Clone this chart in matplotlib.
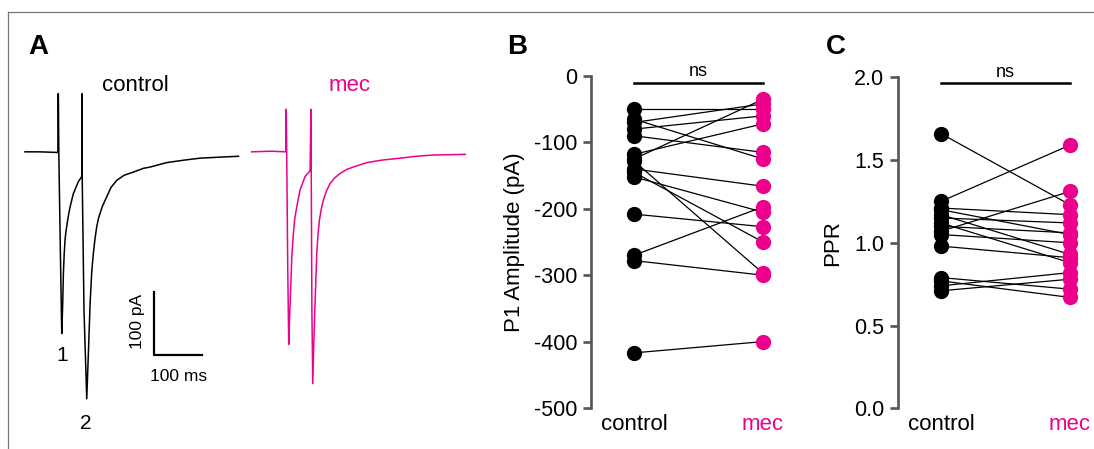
import matplotlib
matplotlib.use('Agg')
from matplotlib import pyplot as plt
from matplotlib.lines import Line2D

plt.rcParams['font.family'] = ['Liberation Sans', 'DejaVu Sans']
plt.rcParams['axes.unicode_minus'] = False

MAGENTA = '#EC008C'
GREY = '#555555'

# Panel A: example traces (time in ms, current in pA)
ctrl_t = [0, 30, 68, 68.6, 69, 70, 73, 76, 78, 79.4, 81, 82.8, 84.5, 86.3, 89, 93.2, 100,
          110.4, 117.4, 117.8, 118, 118.4, 122, 127.7, 131, 134.6, 138, 141.4, 145, 148.4,
          152, 155.3, 160, 169, 178, 189.8, 205, 224, 245, 259, 293, 330, 362, 400, 441.6]
ctrl_i = [0, 0, -1, 92, 92, -5, -150, -287, -240, -192, -162, -139, -127, -118, -104, -87, -66,
          -47, -39, 92, 92, -45, -250, -390, -320, -240, -190, -160, -136, -118,
          -105, -97, -86, -71, -56, -45, -37, -32, -26, -24, -17, -13, -10, -8.5, -7]

mec_t = [0, 40, 70.6, 71, 71.4, 72.5, 74.5, 76.6, 78.5, 80.7, 83, 86.2, 89, 93.1, 100, 110.4,
         120.7, 122.6, 122.8, 123.2, 124.5, 126.3, 128.5, 131, 134.6, 137, 140, 144, 148.3,
         155, 162, 172, 183, 196, 210, 238, 270, 307, 340, 376, 441.6]
mec_i = [0, 1, 0, 67, 67, -10, -180, -304, -260, -213, -165, -129, -106, -87, -60, -39,
         -30, 67, 67, -40, -250, -366, -300, -240, -160, -132, -108, -90, -76,
         -61, -50, -41, -34, -28, -24, -17, -13, -10, -7, -5, -4]

# Panel B: P1 amplitude (pA), paired control -> mec
p1_control = [-49, -65, -70, -80, -90, -118, -125, -128, -140, -145, -152, -208, -270, -278, -417]
p1_mec = [-49, -125, -42, -60, -115, -72, -35, -297, -166, -250, -205, -227, -197, -300, -400]

# Panel C: paired-pulse ratio
ppr_control = [1.66, 1.25, 1.21, 1.20, 1.17, 1.15, 1.12, 1.10, 1.07, 1.05, 0.98, 0.79, 0.77, 0.74, 0.71]
ppr_mec = [1.23, 1.59, 1.17, 1.05, 0.93, 1.12, 0.88, 1.06, 1.31, 1.00, 0.91, 0.72, 0.67, 0.82, 0.78]

groups = ['control', 'mec']

W, H = 1094, 449
fig = plt.figure(figsize=(W / 100, H / 100), dpi=100)


def px_axes(x0, y0, x1, y1):
    return fig.add_axes([x0 / W, 1 - y1 / H, (x1 - x0) / W, (y1 - y0) / H])


# frame around the figure (top and left edge only visible)
fig.add_artist(Line2D([8 / W, 1], [1 - 11.5 / H, 1 - 11.5 / H], color='#777777', lw=0.9))
fig.add_artist(Line2D([8 / W, 8 / W], [0, 1 - 11.5 / H], color='#777777', lw=0.9))

# panel letters
for letter, x in [('A', 38), ('B', 517), ('C', 836)]:
    fig.text(x / W, 1 - 47 / H, letter, fontsize=20, fontweight='bold', ha='center', va='center')

# ---- Panel A ----
ax_c = px_axes(25, 60, 245, 440)
ax_m = px_axes(251.7, 60, 471.7, 440)
for ax in (ax_c, ax_m):
    ax.set_xlim(0, 455)
    ax.set_ylim(-455, 145)
    ax.axis('off')
ax_c.plot(ctrl_t, ctrl_i, color='black', lw=1.1, clip_on=False)
ax_m.plot(mec_t, mec_i, color=MAGENTA, lw=1.1, clip_on=False)
ax_c.text(228, 105, 'control', fontsize=16, ha='center', va='center')
ax_m.text(203, 105, 'mec', fontsize=16, ha='center', va='center', color=MAGENTA)
ax_c.text(77, -321, '1', fontsize=15, ha='center', va='center')
ax_c.text(126, -429, '2', fontsize=15, ha='center', va='center')
# scale bar
ax_c.plot([267, 267, 367], [-221, -321, -321], color='black', lw=1.6, clip_on=False)
ax_c.text(317, -355, '100 ms', fontsize=12.5, ha='center', va='center')
ax_c.text(233, -268, '100 pA', fontsize=12.5, ha='center', va='center', rotation=90)


def paired(ax, ctrl, mec):
    for a, b in zip(ctrl, mec):
        ax.plot([0, 1], [a, b], color='black', lw=0.9, zorder=2, clip_on=False)
    ax.plot([0] * len(ctrl), ctrl, 'o', color='black', ms=11, mew=0, zorder=3, clip_on=False)
    ax.plot([1] * len(mec), mec, 'o', color=MAGENTA, ms=11, mew=0, zorder=3, clip_on=False)
    for s in ('top', 'right', 'bottom'):
        ax.spines[s].set_visible(False)
    ax.spines['left'].set_color(GREY)
    ax.spines['left'].set_linewidth(1.9)
    ax.tick_params(axis='y', length=6, width=1.9, color=GREY, labelsize=15.5, pad=4)
    ax.set_xticks([0, 1])
    ax.set_xticklabels(groups, fontsize=16)
    ax.tick_params(axis='x', length=0, pad=4)
    ax.get_xticklabels()[1].set_color(MAGENTA)


# ---- Panel B ----
ax_b = px_axes(591, 76, 800, 408)
paired(ax_b, p1_control, p1_mec)
ax_b.set_xlim(-0.333, 1.287)
ax_b.set_ylim(-500, 0)
ax_b.set_yticks([0, -100, -200, -300, -400, -500])
ax_b.set_ylabel('P1 Amplitude (pA)', fontsize=16, labelpad=6)
ax_b.plot([0, 1], [-10, -10], color='black', lw=1.8, clip_on=False)
ax_b.text(0.5, -6, 'ns', fontsize=13, ha='center', va='bottom')

# ---- Panel C ----
ax_p = px_axes(898, 77.3, 1094, 408.3)
paired(ax_p, ppr_control, ppr_mec)
ax_p.set_xlim(-0.333, 1.187)
ax_p.set_ylim(0, 2.0)
ax_p.set_yticks([0, 0.5, 1.0, 1.5, 2.0])
ax_p.set_yticklabels(['0.0', '0.5', '1.0', '1.5', '2.0'])
ax_p.set_ylabel('PPR', fontsize=16, labelpad=8)
ax_p.plot([0, 1], [1.967, 1.967], color='black', lw=1.8, clip_on=False)
ax_p.text(0.5, 1.975, 'ns', fontsize=13, ha='center', va='bottom')

fig.savefig('out.png', dpi=100)
